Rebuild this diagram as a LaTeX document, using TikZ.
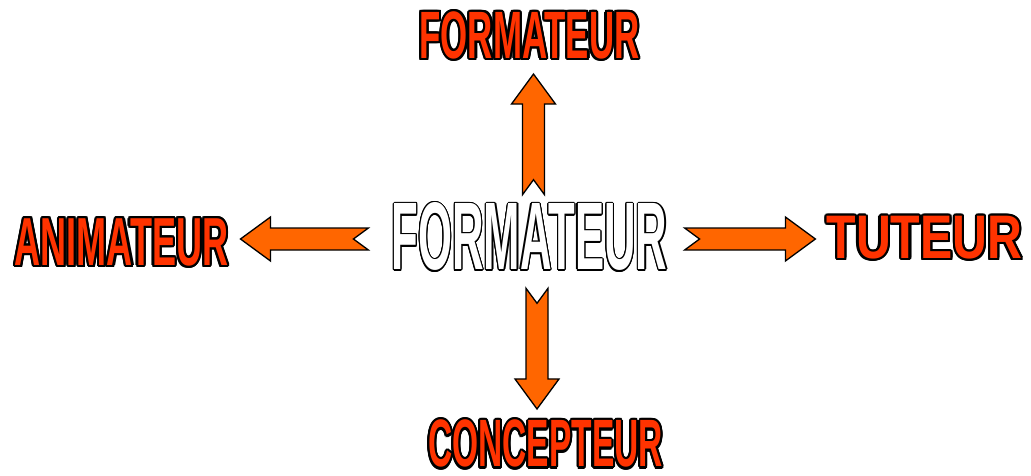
\documentclass[tikz,border=0pt]{standalone}
\usepackage{fontspec}
\setmainfont{Liberation Sans}
\usepackage{graphicx}
\usepackage[copies]{contour}
\usepackage{tikz}
\usetikzlibrary{calc}
\usepackage{xcolor}

\definecolor{arrfill}{HTML}{FF6600}
\definecolor{labelred}{HTML}{FF3300}

\newcommand{\ringtext}[4]{\contourlength{#1}\textcolor{#3}{\contour{black}{\scalebox{#2}[1]{#4}}}}

\begin{document}
\begin{tikzpicture}[
    x=1pt, y=1pt,
    lbl/.style={inner sep=0pt, font=\bfseries\fontsize{#1}{#1}\selectfont},
    blockarrow/.style={draw=black, line width=1.3pt, line join=miter, fill=arrfill,
      to path={
        ($(\tikztostart)!11pt!90:(\tikztotarget)$)
        -- ($($(\tikztotarget)!30pt!(\tikztostart)$)!11pt!90:(\tikztotarget)$)
        -- ($($(\tikztotarget)!30pt!(\tikztostart)$)!22pt!90:(\tikztotarget)$)
        -- (\tikztotarget)
        -- ($($(\tikztotarget)!30pt!(\tikztostart)$)!22pt!-90:(\tikztotarget)$)
        -- ($($(\tikztotarget)!30pt!(\tikztostart)$)!11pt!-90:(\tikztotarget)$)
        -- ($(\tikztostart)!11pt!-90:(\tikztotarget)$)
        -- ($(\tikztostart)!15pt!(\tikztotarget)$)
        -- cycle}}
]
\useasboundingbox (0,0) rectangle (1031,475);

\node[lbl=96] (core) at (529.5,237.5) {\ringtext{1.2pt}{0.455}{white}{FORMATEUR}};

\node[lbl=67] (form) at (529.5,438.5) {\ringtext{2.2pt}{0.52}{labelred}{FORMATEUR}};
\node[lbl=68] (anim) at (121.5,231.5) {\ringtext{2.2pt}{0.53}{labelred}{ANIMATEUR}};
\node[lbl=61.5] (tut) at (924.5,236) {\ringtext{2.2pt}{0.785}{labelred}{TUTEUR}};
\node[lbl=67] (conc) at (545.5,30) {\ringtext{2.2pt}{0.50}{labelred}{CONCEPTEUR}};

\draw[blockarrow] ([xshift=4pt,yshift=8pt]core.north) to ([xshift=4pt,yshift=-12.5pt]form.south);
\draw[blockarrow] ([xshift=7.5pt,yshift=-16pt]core.south) to ([xshift=-8.5pt,yshift=11pt]conc.north);
\draw[blockarrow] ([xshift=-23pt,yshift=-1.5pt]core.west) to ([xshift=12pt,yshift=4.5pt]anim.east);
\draw[blockarrow] ([xshift=17pt,yshift=-1.5pt]core.east) to ([xshift=-11pt]tut.west);

\end{tikzpicture}
\end{document}
